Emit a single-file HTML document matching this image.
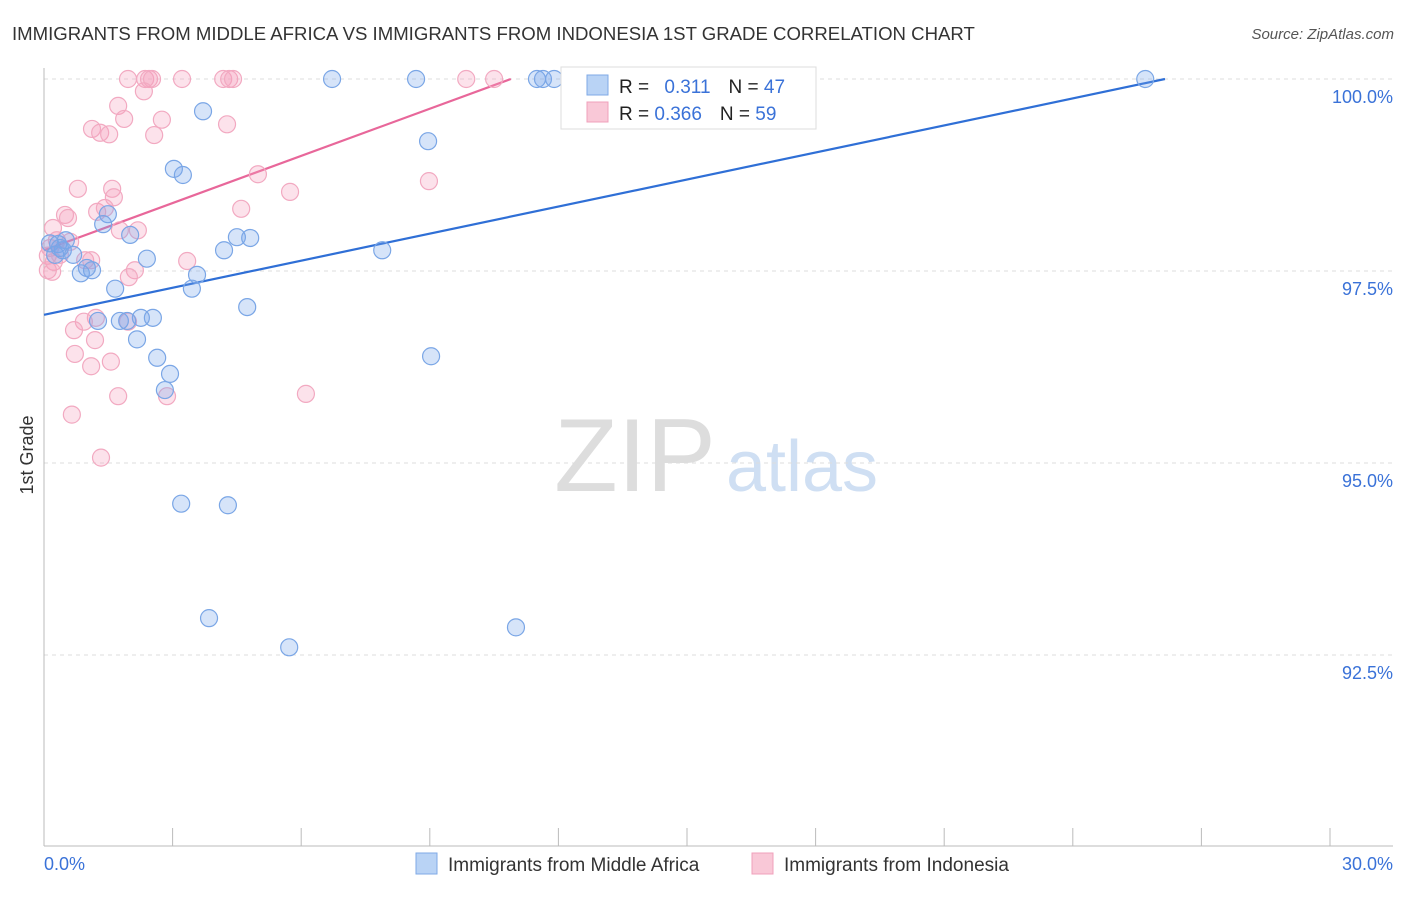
<!DOCTYPE html>
<html><head><meta charset="utf-8"><style>
body{margin:0;background:#fff;font-family:"Liberation Sans",sans-serif;}
svg text{font-family:"Liberation Sans",sans-serif;}
</style></head><body>
<svg id="chart" width="1406" height="892">
<text x="12" y="40" font-size="18.6" fill="#333">IMMIGRANTS FROM MIDDLE AFRICA VS IMMIGRANTS FROM INDONESIA 1ST GRADE CORRELATION CHART</text>
<text x="1394" y="39" font-size="15" fill="#555" font-style="italic" text-anchor="end">Source: ZipAtlas.com</text>
<text x="33" y="455" font-size="18" fill="#333" transform="rotate(-90 33 455)" text-anchor="middle">1st Grade</text>
<g>
<text x="635" y="491" font-size="104" fill="#ddd" font-family="Liberation Serif" text-anchor="middle">ZIP</text>
<text x="802" y="491" font-size="72" fill="#cfdff3" text-anchor="middle">atlas</text>
</g>
<g id="grid"></g><g id="axes"></g><g id="lines"></g><g id="pts"></g>
<g>
<rect x="561" y="67" width="255" height="62" fill="#fff" stroke="#ddd"/>
<rect x="587" y="75" width="21" height="20" fill="#b9d3f5" stroke="#7fa9e6"/>
<rect x="587" y="102" width="21" height="20" fill="#f9c8d7" stroke="#f0a0bb"/>
<text x="619" y="93" font-size="19" fill="#222">R = <tspan fill="#3a72d8" dx="10">0.311</tspan><tspan fill="#222" dx="18">N = </tspan><tspan fill="#3a72d8">47</tspan></text>
<text x="619" y="120" font-size="19" fill="#222">R = <tspan fill="#3a72d8">0.366</tspan><tspan fill="#222" dx="18">N = </tspan><tspan fill="#3a72d8">59</tspan></text>
</g>
<g>
<rect x="416" y="853" width="21" height="21" fill="#b9d3f5" stroke="#7fa9e6"/>
<text x="448" y="871" font-size="19" fill="#333">Immigrants from Middle Africa</text>
<rect x="752" y="853" width="21" height="21" fill="#f9c8d7" stroke="#f0a0bb"/>
<text x="784" y="871" font-size="19" fill="#333">Immigrants from Indonesia</text>
</g>
</svg>
<script>
const yTicks=[100,97.5,95,92.5];
const yTickLabels=["100.0%","97.5%","95.0%","92.5%"];
const xEndLabels=["0.0%","30.0%"];
const blueX=[6.72,8.68,11.50,11.64,11.90,25.69,3.71,8.96,3.03,3.24,1.49,1.38,2.01,4.50,4.81,4.20,7.89,0.33,0.44,0.68,2.40,1.00,1.12,0.86,3.57,1.66,3.45,4.74,2.54,2.26,1.77,1.94,1.26,2.17,2.64,9.03,2.94,2.82,3.20,4.29,3.85,11.01,5.72,0.14,0.26,0.37,0.51];
const blueY=[100,100,100,100,100,100,99.58,99.19,98.83,98.75,98.24,98.11,97.97,97.94,97.93,97.77,97.77,97.85,97.77,97.71,97.66,97.54,97.51,97.47,97.45,97.27,97.27,97.03,96.89,96.89,96.85,96.85,96.85,96.61,96.37,96.39,96.16,95.95,94.47,94.45,92.98,92.86,92.60,97.86,97.71,97.80,97.90];
const pinkX=[1.96,2.36,2.45,2.52,3.22,4.18,4.32,4.41,9.85,10.50,2.33,1.73,1.87,2.75,1.12,1.31,1.52,2.57,4.27,4.99,8.98,0.79,1.59,5.74,1.63,0.49,0.56,1.24,1.42,4.60,0.21,1.77,2.19,0.30,0.61,0.14,0.09,0.96,1.10,0.23,3.34,0.09,0.19,2.12,1.98,1.21,0.93,1.96,0.70,1.19,0.72,1.56,1.10,6.11,1.73,2.87,0.65,1.33,0.37];
const pinkY=[100,100,100,100,100,100,100,100,100,100,99.84,99.65,99.48,99.47,99.35,99.30,99.28,99.27,99.41,98.76,98.67,98.57,98.57,98.53,98.46,98.23,98.19,98.27,98.32,98.31,98.06,98.03,98.03,97.90,97.88,97.80,97.70,97.64,97.64,97.62,97.63,97.51,97.49,97.51,97.42,96.89,96.84,96.84,96.73,96.60,96.42,96.32,96.26,95.90,95.87,95.87,95.63,95.07,97.71];
const blueTrend=[0,96.93,26.15,100];
const pinkTrend=[0,97.77,10.89,100];
const NS="http://www.w3.org/2000/svg";
const sx=v=>44+v/30*1286, sy=v=>79+(100-v)/2.5*192;
function mk(t,a,p){const e=document.createElementNS(NS,t);for(const k in a)e.setAttribute(k,a[k]);p.appendChild(e);return e;}
const grid=document.getElementById('grid'),axes=document.getElementById('axes');
yTicks.forEach((t,i)=>{
 const l=mk('line',{x1:44,x2:1393,y1:sy(t),y2:sy(t),stroke:'#ddd','stroke-dasharray':'4,4'},grid);
 
 
 const tx=mk('text',{x:1393,y:sy(t)+24,'font-size':18,fill:'#3a72d8','text-anchor':'end'},axes);
 tx.textContent=yTickLabels[i];
 
 
});
mk('line',{x1:44,x2:44,y1:68,y2:846,stroke:'#bbb'},axes);
mk('line',{x1:44,x2:1393,y1:846,y2:846,stroke:'#bbb'},axes);
for(let i=0;i<=10;i++){mk('line',{x1:sx(i*3),x2:sx(i*3),y1:828,y2:846,stroke:'#bbb'},axes);}
xEndLabels.forEach((s,i)=>{const t=mk('text',{x:i?1393:44,y:870,'font-size':18,fill:'#3a72d8','text-anchor':i?'end':'start'},axes);t.textContent=s;
 
 });
const lines=document.getElementById('lines'),pts=document.getElementById('pts');
function pl(xs,ys,fill,stroke,name){xs.forEach((x,i)=>{const c=mk('circle',{cx:sx(x),cy:sy(ys[i]),r:8.5,fill:fill,stroke:stroke,'stroke-width':1.2},pts);
 
 });}
pl(pinkX,pinkY,'rgba(245,160,190,0.3)','#f2a9c1','point-indonesia');
pl(blueX,blueY,'rgba(120,165,235,0.3)','#7aa6e6','point-middle-africa');
const bl=mk('line',{x1:sx(blueTrend[0]),y1:sy(blueTrend[1]),x2:sx(blueTrend[2]),y2:sy(blueTrend[3]),stroke:'#2f6fd6','stroke-width':2.2},lines);


const pk=mk('line',{x1:sx(pinkTrend[0]),y1:sy(pinkTrend[1]),x2:sx(pinkTrend[2]),y2:sy(pinkTrend[3]),stroke:'#e8679a','stroke-width':2.2},lines);


</script>
</body></html>
